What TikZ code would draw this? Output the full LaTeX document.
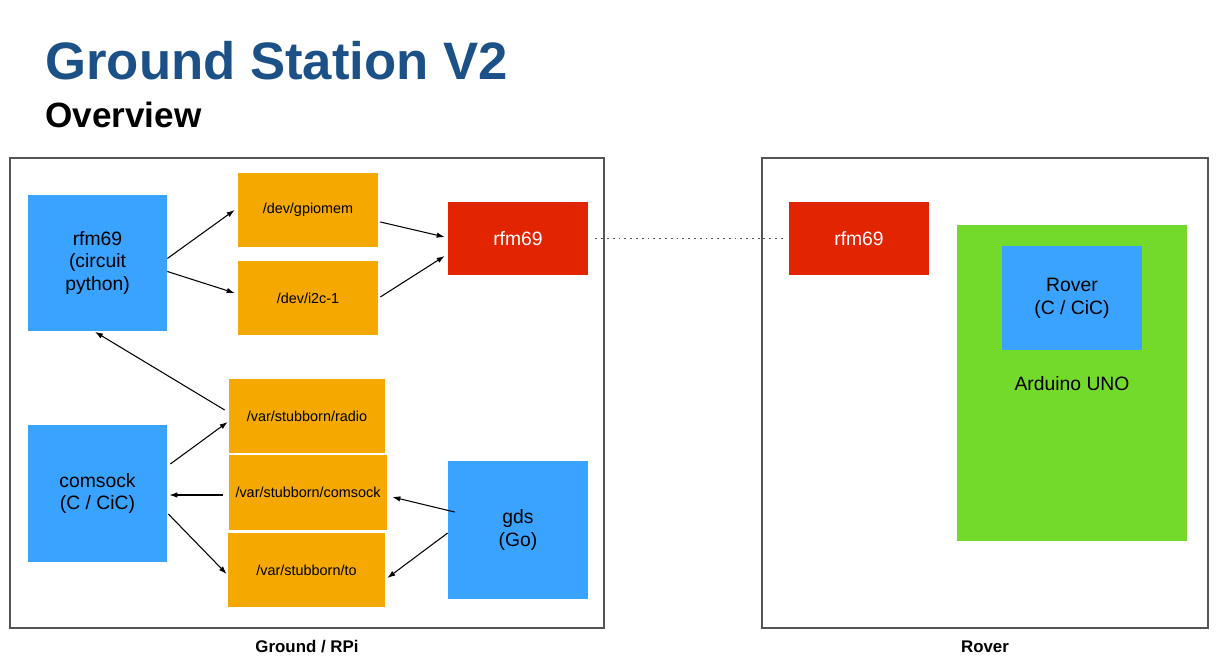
\documentclass[tikz,border=0pt]{standalone}
\usepackage{fontspec}
\setmainfont{Liberation Sans}
\usepackage{tikz}
\usetikzlibrary{arrows.meta,positioning,calc}
\definecolor{boxblue}{RGB}{58,162,255}
\definecolor{boxorange}{RGB}{245,168,0}
\definecolor{boxred}{RGB}{226,36,0}
\definecolor{boxgreen}{RGB}{115,217,42}
\definecolor{titleblue}{RGB}{27,81,134}
\definecolor{framegray}{RGB}{85,85,85}

\begin{document}
\begin{tikzpicture}[x=0.02cm, y=-0.02cm,
  proc/.style={fill=boxblue, minimum width=2.78cm, minimum height=2.74cm, align=center, font=\fontsize{11}{13}\selectfont},
  dev/.style={fill=boxorange, minimum width=2.8cm, minimum height=1.48cm, font=\fontsize{8.2}{10}\selectfont},
  radio/.style={fill=boxred, text=white, minimum width=2.8cm, minimum height=1.46cm, font=\fontsize{11}{13}\selectfont},
  link/.style={-{Latex[length=1.6mm,width=1.1mm]}, line width=0.6pt},
  frame/.style={draw=framegray, line width=0.9pt}]
\useasboundingbox (0,0) rectangle (1222,661);

\node[anchor=base west, inner sep=0pt, text=titleblue, font=\fontsize{30}{30}\selectfont\bfseries] (title) at (45,80) {Ground Station V2};
\node[anchor=base west, inner sep=0pt, font=\fontsize{20}{20}\selectfont\bfseries] (sub) at (45,128) {Overview};

\draw[frame] (10,158) rectangle (604,628);
\draw[frame] (762,158) rectangle (1208,628);
\node[font=\fontsize{9.6}{11}\selectfont\bfseries] (gndlbl) at (307,647) {Ground / RPi};
\node[font=\fontsize{9.6}{11}\selectfont\bfseries] (rovlbl) at (985,647) {Rover};

\node[proc] (rfmpy) at (97.5,263) {rfm69\\(circuit\\python)};
\node[dev] (gpiomem) at (308,210) {/dev/gpiomem};
\node[dev] (i2c) at (308,298) {/dev/i2c-1};
\node[radio] (rfmgs) at (518,238.5) {rfm69};

\node[dev, minimum width=3.12cm] (radiovar) at (307,416) {/var/stubborn/radio};
\node[dev, minimum width=3.16cm, minimum height=1.5cm] (comsockvar) at (308,492.5) {/var/stubborn/comsock};
\node[dev, minimum width=3.14cm] (tovar) at (306.5,570) {/var/stubborn/to};
\node[proc] (comsock) at (97.5,493.5) {comsock\\(C / CiC)};
\node[proc, minimum width=2.8cm, minimum height=2.76cm] (gds) at (518,530) {gds\\(Go)};

\node[radio] (rfmrv) at (859,238.5) {rfm69};
\node[fill=boxgreen, minimum width=4.6cm, minimum height=6.32cm] (uno) at (1072,383) {};
\node[proc, minimum width=2.8cm, minimum height=2.08cm] (rover) at (1072,298) {Rover\\(C / CiC)};
\node[font=\fontsize{11}{13}\selectfont] (unolbl) at (1072,384) {Arduino UNO};

\draw[link] ([yshift=0.09cm]rfmpy.east) -- ([xshift=-0.06cm]gpiomem.west);
\draw[link] ([yshift=-0.17cm]rfmpy.east) -- ([xshift=-0.06cm,yshift=0.1cm]i2c.west);
\draw[link] ([xshift=0.04cm,yshift=-0.24cm]gpiomem.east) -- ([xshift=-0.06cm,yshift=0.03cm]rfmgs.west);
\draw[link] ([xshift=0.04cm,yshift=0.02cm]i2c.east) -- ([xshift=-0.06cm,yshift=-0.35cm]rfmgs.west);
\draw[link] ([xshift=-0.08cm,yshift=0.12cm]radiovar.west) -- ([xshift=-0.05cm]rfmpy.south);
\draw[link] ([xshift=0.06cm,yshift=0.59cm]comsock.east) -- ([xshift=-0.02cm,yshift=-0.12cm]radiovar.west);
\draw[link] ([xshift=-0.12cm,yshift=-0.05cm]comsockvar.west) -- ([xshift=0.04cm,yshift=-0.03cm]comsock.east);
\draw[link] ([xshift=0.02cm,yshift=-0.41cm]comsock.east) -- ([xshift=-0.02cm,yshift=-0.08cm]tovar.west);
\draw[link] ([xshift=0.14cm,yshift=0.36cm]gds.west) -- ([xshift=0.1cm,yshift=-0.09cm]comsockvar.east);
\draw[link] ([yshift=-0.06cm]gds.west) -- ([xshift=0.04cm,yshift=-0.16cm]tovar.east);

\draw[line width=1.1pt, dash pattern=on 1.1pt off 2.2pt, framegray] ([xshift=0.14cm]rfmgs.east) -- ([xshift=-0.08cm]rfmrv.west);
\end{tikzpicture}
\end{document}
